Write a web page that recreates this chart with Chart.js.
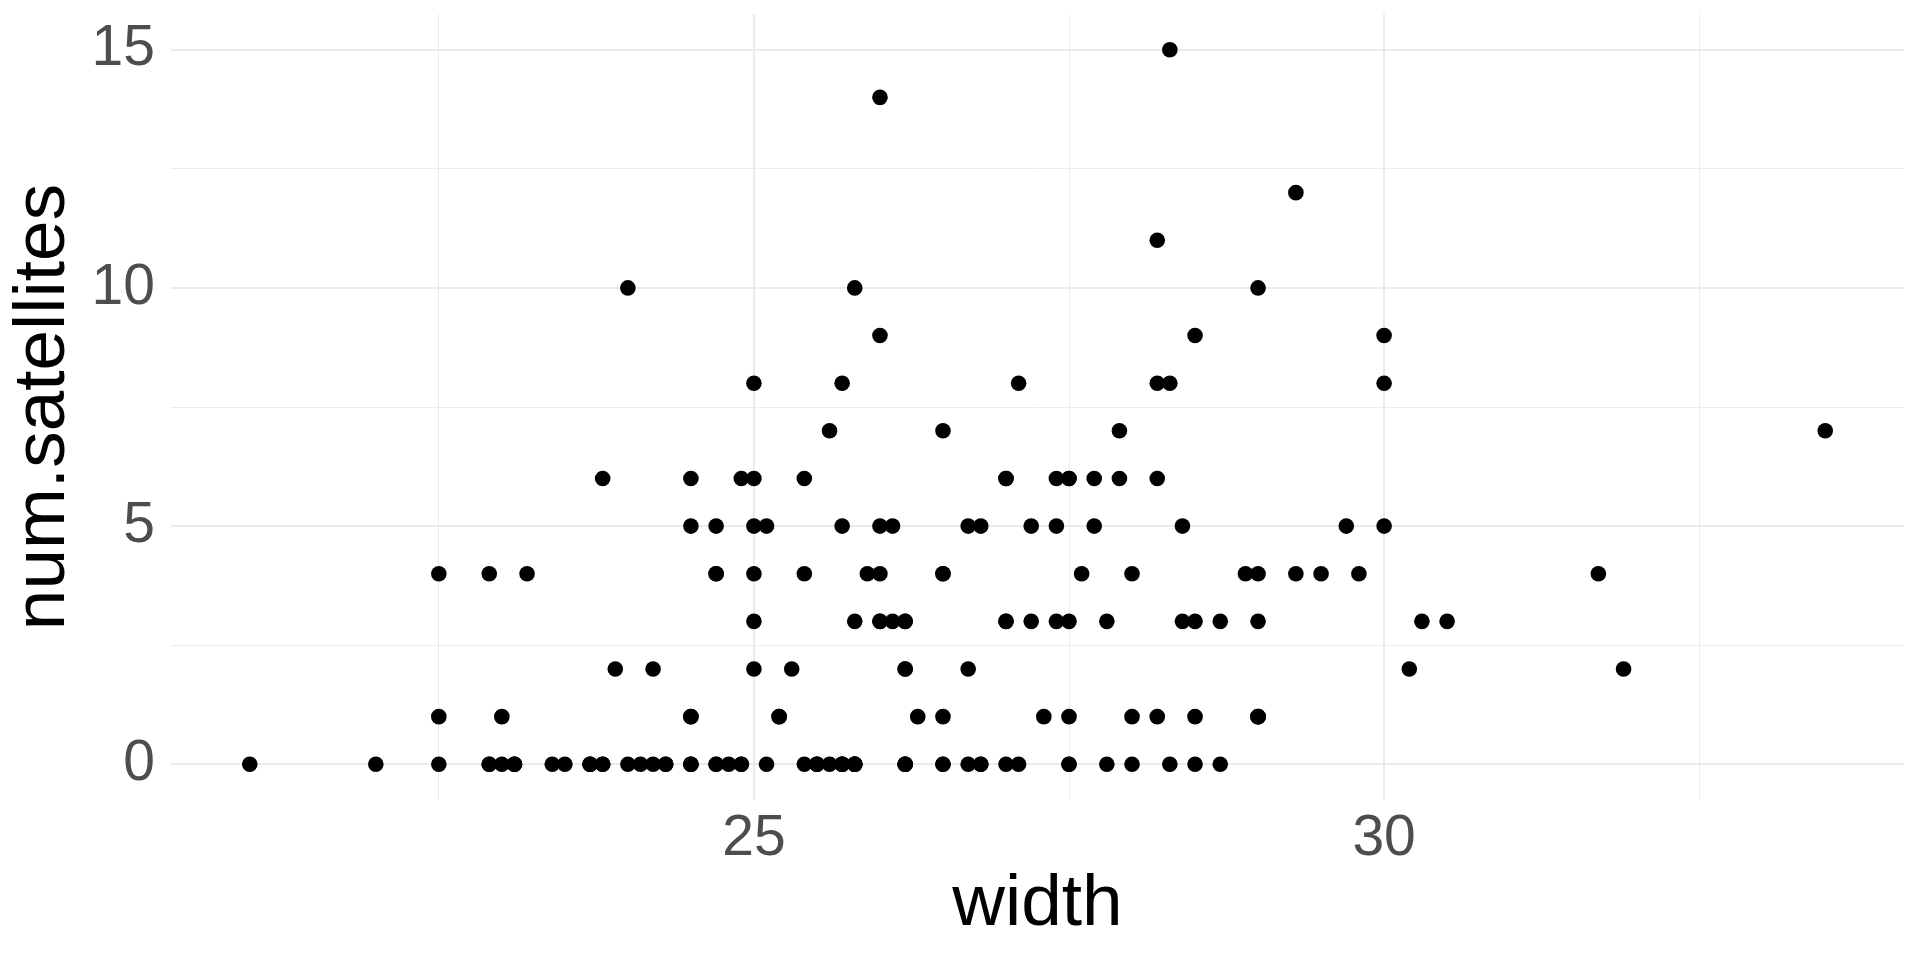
<!DOCTYPE html>
<html>
<head>
<meta charset="utf-8">
<script src="https://cdn.jsdelivr.net/npm/chart.js@4/dist/chart.umd.min.js"></script>
<style>
  html, body { margin: 0; padding: 0; background: #ffffff; }
  canvas { display: block; }
</style>
</head>
<body>
<canvas id="crabChart" width="1920" height="960"></canvas>
<script>
// ---------------------------------------------------------------- DATA ----------------------------------------------------------------
const widthValues = [
    28.3, 22.5, 26.0, 24.8, 26.0, 23.8, 26.5, 24.7, 23.7, 25.6, 24.3, 25.8, 28.2, 21.0, 26.0, 27.1, 25.2, 29.0, 24.7, 27.4,
    23.2, 25.0, 22.5, 26.7, 25.8, 26.2, 28.7, 26.8, 27.5, 24.9, 29.3, 25.8, 25.7, 25.7, 26.7, 23.7, 26.8, 27.5, 23.4, 27.9,
    27.5, 26.1, 27.7, 30.0, 28.5, 28.9, 28.2, 25.0, 28.5, 30.3, 24.7, 27.7, 27.4, 22.9, 25.7, 28.3, 27.2, 26.2, 27.8, 25.5,
    27.1, 24.5, 27.0, 26.0, 28.0, 30.0, 29.0, 26.2, 26.5, 26.2, 25.6, 23.0, 23.0, 25.4, 24.2, 22.9, 26.0, 25.4, 25.7, 25.1,
    24.5, 27.5, 23.1, 25.9, 25.8, 27.0, 28.5, 25.5, 23.5, 24.0, 29.7, 26.8, 26.7, 28.7, 23.1, 29.0, 25.5, 26.5, 24.5, 28.5,
    28.2, 24.5, 27.5, 24.7, 25.2, 27.3, 26.3, 29.0, 25.3, 26.5, 27.8, 27.0, 25.7, 25.0, 31.9, 23.7, 29.3, 22.0, 25.0, 27.0,
    23.8, 30.2, 26.2, 24.2, 27.4, 25.4, 28.4, 22.5, 26.2, 24.9, 24.5, 25.1, 28.0, 25.8, 27.9, 24.9, 28.4, 27.2, 25.0, 27.5,
    33.5, 30.5, 29.0, 24.3, 25.8, 25.0, 31.7, 29.5, 24.0, 30.0, 27.6, 26.2, 23.1, 22.9, 24.5, 24.7, 28.3, 23.9, 23.8, 29.8,
    26.5, 26.0, 28.2, 25.7, 26.5, 25.8, 24.1, 26.2, 26.1, 29.0, 28.0, 27.0, 24.5
];
const satellites = [
    8, 0, 9, 0, 4, 0, 0, 0, 0, 0, 0, 0, 11, 0, 14, 8, 1, 1, 0, 5,
    4, 3, 1, 2, 3, 0, 3, 5, 0, 0, 4, 0, 0, 8, 5, 0, 0, 6, 0, 6,
    3, 5, 6, 5, 9, 4, 6, 4, 3, 3, 5, 5, 6, 4, 5, 15, 3, 3, 0, 0,
    0, 5, 3, 5, 1, 8, 10, 0, 0, 3, 7, 1, 0, 6, 0, 0, 3, 4, 0, 5,
    0, 0, 0, 4, 0, 3, 0, 0, 0, 0, 5, 0, 0, 0, 0, 1, 0, 1, 1, 1,
    1, 1, 1, 4, 1, 1, 1, 1, 2, 4, 3, 6, 0, 2, 2, 0, 12, 0, 5, 6,
    6, 2, 0, 2, 3, 0, 3, 4, 2, 6, 6, 0, 4, 10, 7, 0, 5, 5, 6, 6,
    7, 3, 3, 0, 0, 8, 4, 4, 10, 9, 4, 0, 0, 0, 0, 4, 0, 2, 0, 4,
    4, 3, 8, 0, 7, 0, 0, 2, 3, 4, 0, 0, 0
];

const xGridTicks = [22.5, 25, 27.5, 30, 32.5];
const xLabelTicks = [25, 30];
const yGridTicks = [0, 2.5, 5, 7.5, 10, 12.5, 15];
const yLabelTicks = [0, 5, 10, 15];

// ---------------------------------------------------------------- CHART ----------------------------------------------------------------
const points = widthValues.map((w, i) => ({ x: w, y: satellites[i] }));

const tickFont = { family: "'Liberation Sans', Arial, sans-serif", size: 57 };
const titleFont = { family: "'Liberation Sans', Arial, sans-serif", size: 73 };

const ctx = document.getElementById('crabChart').getContext('2d');
const crabChart = new Chart(ctx, {
    type: 'scatter',
    data: {
        datasets: [{
            label: 'num.satellites',
            data: points,
            backgroundColor: '#000000',
            borderWidth: 0,
            pointRadius: 7.8,
            pointHoverRadius: 7.8
        }]
    },
    options: {
        responsive: false,
        animation: false,
        devicePixelRatio: 1,
        layout: {
            padding: { top: 14, right: 16, left: 0, bottom: 0 }
        },
        plugins: {
            legend: { display: false },
            tooltip: { enabled: false }
        },
        scales: {
            x: {
                type: 'linear',
                min: 20.375,
                max: 34.125,
                afterBuildTicks: (scale) => {
                    scale.ticks = xGridTicks.map(v => ({ value: v }));
                },
                afterFit: (scale) => {
                    scale.height = 160;
                    scale.paddingLeft = 0;
                    scale.paddingRight = 0;
                },
                ticks: {
                    autoSkip: false,
                    maxRotation: 0,
                    padding: 5,
                    color: '#4d4d4d',
                    font: tickFont,
                    callback: (v) => xLabelTicks.includes(v) ? String(v) : ''
                },
                grid: {
                    color: '#ebebeb',
                    lineWidth: (c) => xLabelTicks.includes(c.tick && c.tick.value) ? 2 : 1,
                    drawTicks: false
                },
                border: { display: false },
                title: {
                    display: true,
                    text: 'width',
                    color: '#000000',
                    font: titleFont,
                    padding: { top: 0, bottom: 11 }
                }
            },
            y: {
                type: 'linear',
                min: -0.75,
                max: 15.75,
                afterBuildTicks: (scale) => {
                    scale.ticks = yGridTicks.map(v => ({ value: v }));
                },
                afterFit: (scale) => {
                    scale.width = 171;
                    scale.paddingTop = 0;
                    scale.paddingBottom = 0;
                },
                ticks: {
                    autoSkip: false,
                    padding: 16,
                    color: '#4d4d4d',
                    font: tickFont,
                    callback: (v) => yLabelTicks.includes(v) ? String(v) : ''
                },
                grid: {
                    color: '#ebebeb',
                    lineWidth: (c) => yLabelTicks.includes(c.tick && c.tick.value) ? 2 : 1,
                    drawTicks: false
                },
                border: { display: false },
                title: {
                    display: true,
                    text: 'num.satellites',
                    color: '#000000',
                    font: titleFont,
                    padding: { top: 0, bottom: 0 }
                }
            }
        }
    }
});
</script>
</body>
</html>
